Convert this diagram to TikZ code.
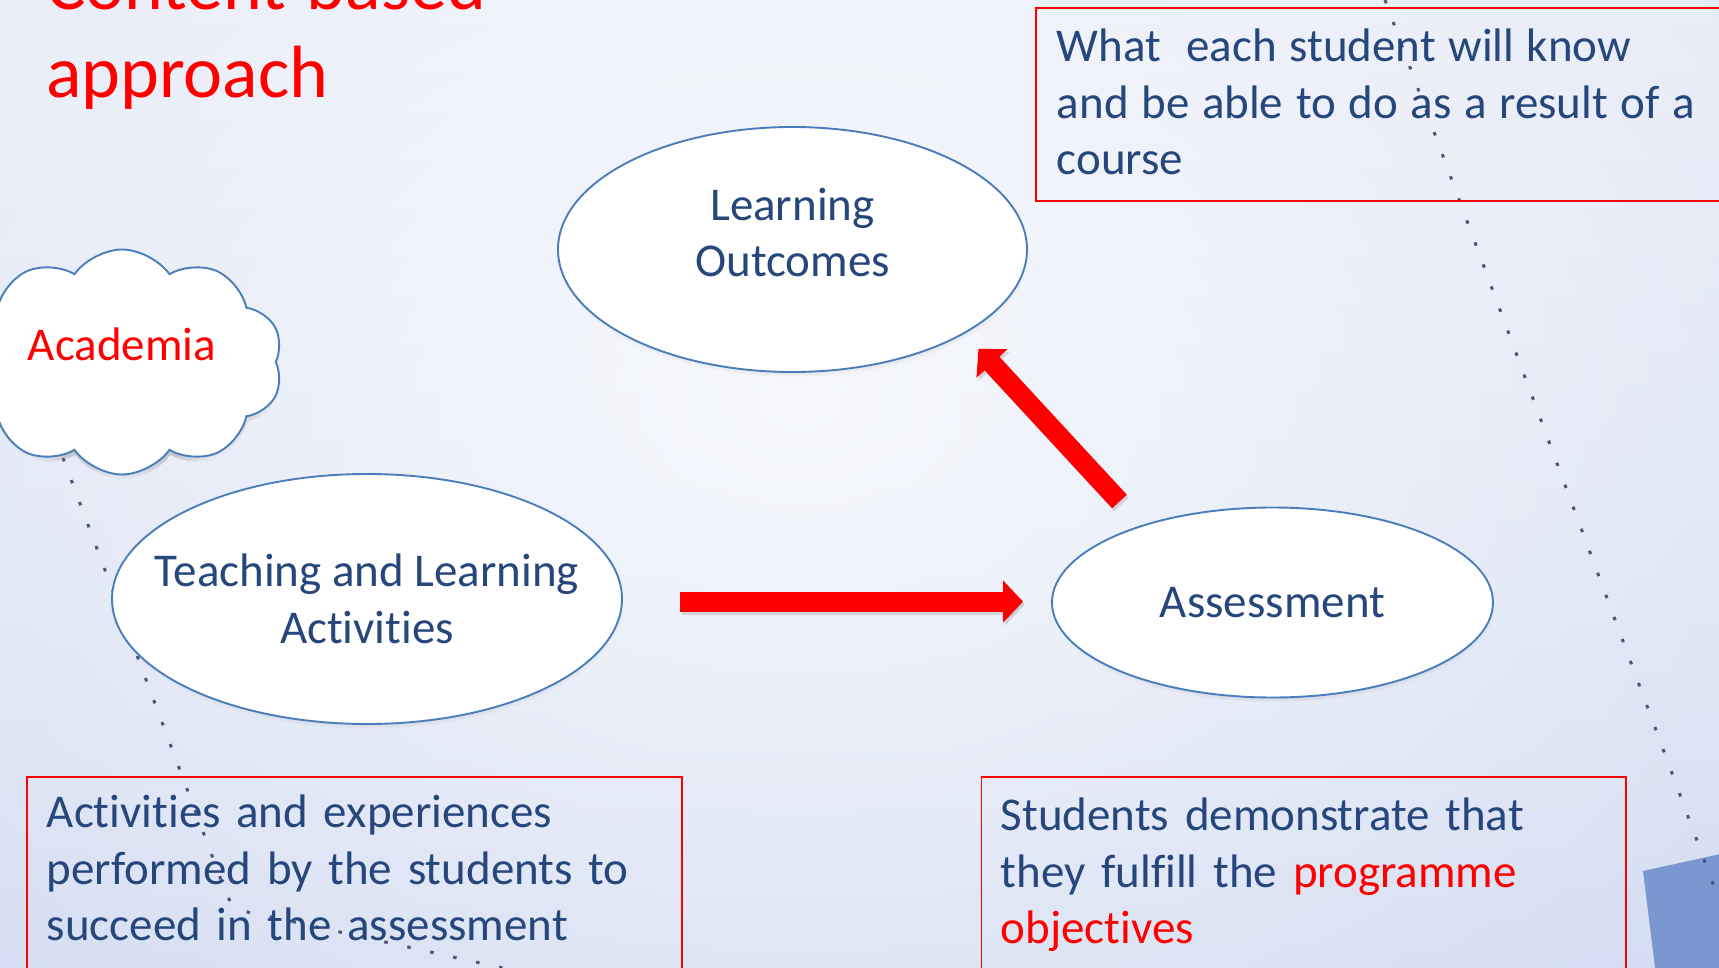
\documentclass[tikz,border=0pt]{standalone}
\usepackage{fontspec}
\setmainfont[Ligatures=NoCommon]{Carlito}
\usepackage{xcolor}
\usetikzlibrary{shapes.geometric,shapes.symbols,arrows.meta,shadows,fadings}
\definecolor{slideblue}{RGB}{38,70,124}
\definecolor{rimblue}{RGB}{74,126,187}
\definecolor{dotgrey}{RGB}{80,84,122}
\definecolor{bgtop}{RGB}{221,227,243}
\definecolor{bgbottom}{RGB}{192,206,236}
\definecolor{cornerblue}{RGB}{122,151,208}
\tikzfading[name=glowfade, inner color=transparent!0, outer color=transparent!100]

\begin{document}
\begin{tikzpicture}[x=1pt,y=-1pt,
  bubble/.style={ellipse, draw=rimblue, line width=1.9pt, fill=white, inner sep=0pt,
    text=slideblue, font=\fontsize{47}{56.5}\selectfont, align=center,
    circular drop shadow={shadow xshift=1pt, shadow yshift=-5pt, shadow scale=1, opacity=0.45}},
  notebox/.style={draw=red, line width=1.8pt, anchor=north west, inner ysep=0pt,
    text=slideblue, font=\fontsize{47}{56.5}\selectfont, align=left},
  blockarrow/.style={draw=red, line width=20pt, -{Triangle[length=20pt,width=41pt]}},
  dotline/.style={dotgrey, line width=3pt, dash pattern=on 3.5pt off 20pt}]
\useasboundingbox (0,0) rectangle (1719,968);
\clip (0,0) rectangle (1719,968);

% slide background
\shade[top color=bgtop, bottom color=bgbottom] (0,0) rectangle (1719,968);
\fill[white, fill opacity=0.8, path fading=glowfade] (-1100,-1000) rectangle (2700,1800);
\fill[cornerblue] (1643,871) -- (1725,853) -- (1725,975) -- (1656,975) -- cycle;
\draw[dotline] (30,370) -- (226,893) .. controls (234,914) and (250,912) .. (290,921) -- (530,974);
\draw[dotline] (1385,0) -- (1745,970);

\node[anchor=base west, inner sep=0pt, text=red, font=\fontsize{74}{88}\selectfont, align=left]
  (heading) at (46,98) {Content-based\\approach};

\node[cloud, cloud puffs=10, cloud puff arc=110, aspect=1.45, draw=rimblue, line width=1.9pt,
  fill=white, minimum width=322pt, minimum height=218pt, text=red,
  font=\fontsize{47}{56.5}\selectfont, text height=33pt, text depth=37pt,
  circular drop shadow={shadow xshift=1pt, shadow yshift=-5pt, shadow scale=1, opacity=0.35}]
  (academia) at (122,362) {Academia};

% the three ellipses
\node[bubble, minimum width=469pt, minimum height=245pt, text height=61pt, text depth=6pt]
  (outcomes) at (792.5,249.5) {Learning\\Outcomes};
\node[bubble, minimum width=510pt, minimum height=250pt, inner xsep=-100pt, text height=94pt, text depth=6pt]
  (teaching) at (367,599) {Teaching and Learning\\Activities};
\node[bubble, minimum width=441pt, minimum height=190pt, text height=35pt, text depth=6pt]
  (assessment) at (1272.5,602.5) {Assessment};

% block arrows
\coordinate (flowtail) at (680,601.5);
\coordinate (flowtip) at (1023,601.5);
\coordinate (backtail) at (1119.5,501.5);
\coordinate (backtip) at (978.4,348.8);
\draw[blockarrow, draw=black, opacity=0.12, transform canvas={shift={(2pt,-3pt)}}] (flowtail) -- (flowtip);
\draw[blockarrow, draw=black, opacity=0.12, transform canvas={shift={(2pt,-3pt)}}] (backtail) -- (backtip);
\draw[blockarrow] (flowtail) -- (flowtip);
\draw[blockarrow] (backtail) -- (backtip);

% the three notes
\node[notebox, text width=680pt, inner xsep=21pt, text height=54pt, text depth=139pt]
  (outcomebox) at (1035,7) {\spaceskip=12.6pt\relax What\ \ each student will know\\and be able to do as a result of a\\course};
\node[notebox, text width=615pt, inner xsep=20pt, text height=51pt, text depth=300pt]
  (activitybox) at (26,776) {Activities and experiences\\performed by the students to\\succeed in the assessment};
\node[notebox, text width=605.5pt, inner xsep=19.5pt, text height=54pt, text depth=300pt]
  (assessbox) at (980.5,776) {Students demonstrate that\\they fulfill the \textcolor{red}{programme}\\\textcolor{red}{objectives}};
\end{tikzpicture}
\end{document}
